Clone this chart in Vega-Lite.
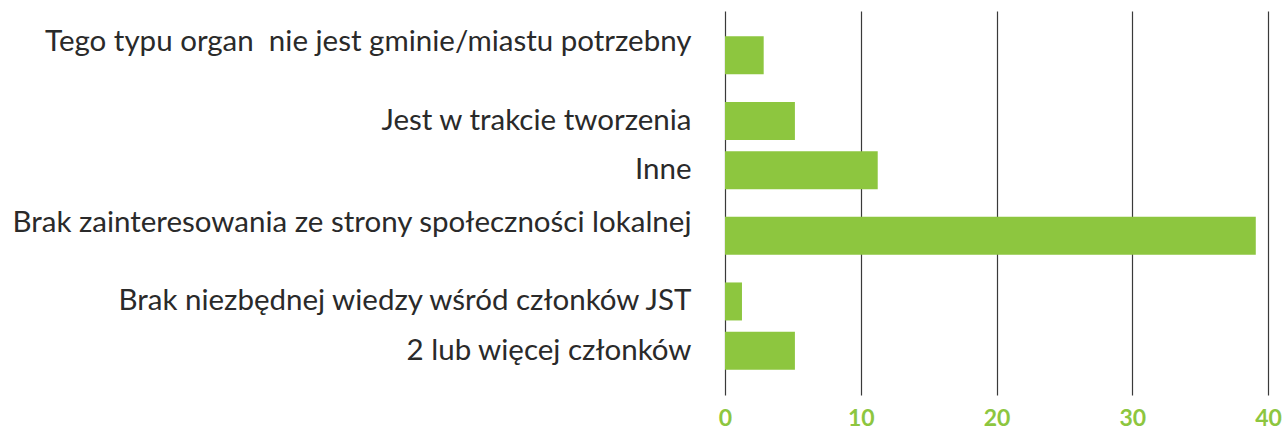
{
  "$schema": "https://vega.github.io/schema/vega-lite/v6.json",
  "autosize": {"type": "none"},
  "width": 543,
  "height": 384,
  "padding": {"left": 725, "top": 11, "right": 15, "bottom": 33},
  "background": "white",
  "data": {"values": [
    {"kategoria": "Tego typu organ\u00a0 nie jest gminie/miastu potrzebny", "wartosc": 2.85},
    {"kategoria": "Jest w trakcie tworzenia", "wartosc": 5.15},
    {"kategoria": "Inne", "wartosc": 11.25},
    {"kategoria": "Brak zainteresowania ze strony społeczności lokalnej", "wartosc": 39.1},
    {"kategoria": "Brak niezbędnej wiedzy wśród członków JST", "wartosc": 1.25},
    {"kategoria": "2 lub więcej członków", "wartosc": 5.15}
  ]},
  "mark": {"type": "bar", "color": "#8dc63f", "height": 38},
  "encoding": {
    "y": {
      "field": "kategoria",
      "type": "nominal",
      "sort": null,
      "scale": {
        "domain": [
          "\u2002", "\u2002\u2002",
          "Tego typu organ\u00a0 nie jest gminie/miastu potrzebny", " ", "  ", "   ",
          "Jest w trakcie tworzenia", "    ", "     ",
          "Inne", "      ", "       ", "        ",
          "Brak zainteresowania ze strony społeczności lokalnej", "         ", "          ", "           ",
          "Brak niezbędnej wiedzy wśród członków JST", "            ", "             ",
          "2 lub więcej członków",
          "\u2003", "\u2003\u2003"
        ],
        "paddingInner": 0,
        "paddingOuter": 0.2
      },
      "axis": {
        "title": null,
        "domain": false,
        "ticks": false,
        "grid": false,
        "labelPadding": 34,
        "labelFont": "Lato",
        "labelFontSize": 29.5,
        "labelColor": "#2a2a2a",
        "labelLimit": 900,
        "labelOffset": {
          "condition": {"test": "indexof(datum.value, 'Tego') == 0 || indexof(datum.value, 'Brak zainteresowania') == 0", "value": -13},
          "value": 0
        }
      }
    },
    "x": {
      "field": "wartosc",
      "type": "quantitative",
      "scale": {"domain": [0, 40], "nice": false},
      "axis": {
        "title": null,
        "values": [0, 10, 20, 30, 40],
        "domain": false,
        "ticks": false,
        "grid": true,
        "gridColor": "#3a3a3a",
        "gridWidth": 1.2,
        "gridOpacity": 1,
        "labelFont": "Lato",
        "labelFontWeight": "bold",
        "labelFontSize": 23,
        "labelColor": "#8dc63f",
        "labelBaseline": "alphabetic",
        "labelPadding": 30,
        "labelFlush": false
      }
    }
  },
  "config": {"view": {"stroke": null}}
}
